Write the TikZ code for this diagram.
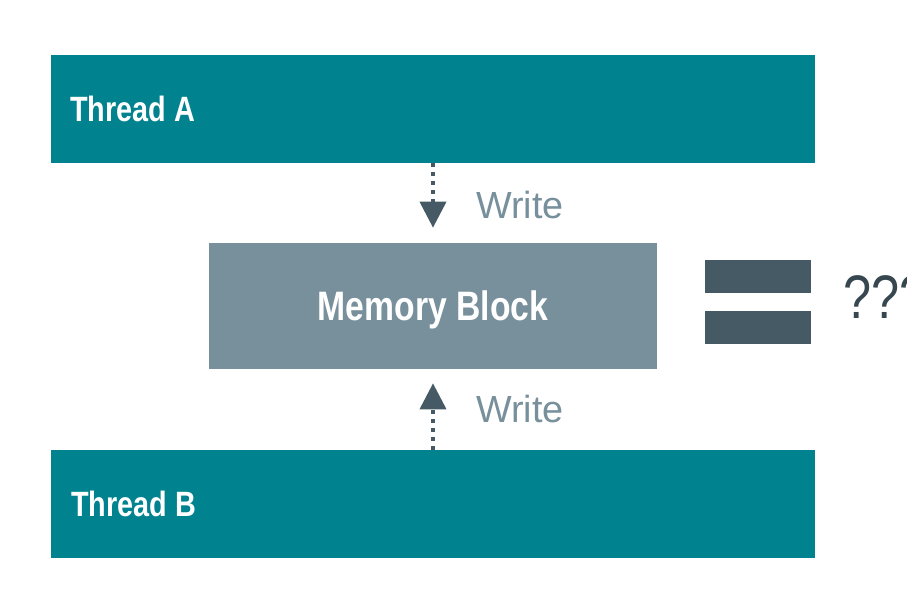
\documentclass[tikz,border=0pt]{standalone}
\usepackage{fontspec}
\setmainfont{Liberation Sans}
\newfontfamily\condfont[FakeStretch=0.82]{Liberation Sans}
\usetikzlibrary{arrows.meta,positioning}
\definecolor{threadteal}{HTML}{00838F}
\definecolor{memgrey}{HTML}{78909C}
\definecolor{bargrey}{HTML}{455A64}
\definecolor{qgrey}{HTML}{37474F}

\tikzset{
  threadbox/.style={fill=threadteal, draw=none, minimum width=15.28cm, minimum height=2.16cm, inner sep=0pt},
  threadlabel/.style={text=white, font=\condfont\bfseries\fontsize{20}{24}\selectfont, inner sep=0pt},
  membox/.style={fill=memgrey, draw=none, minimum width=8.96cm, minimum height=2.52cm, inner sep=0pt},
  memlabel/.style={text=white, font=\condfont\bfseries\fontsize{23.4}{28}\selectfont, inner sep=0pt, anchor=base},
  eqbar/.style={fill=bargrey, draw=none, minimum width=2.12cm, minimum height=0.66cm, inner sep=0pt},
  writearrow/.style={bargrey, line width=2.2pt, dash pattern=on 2.2pt off 2.9pt,
    -{Triangle[width=0.52cm,length=0.52cm]}},
  writelabel/.style={text=memgrey, font=\fontsize{21.5}{26}\selectfont, inner sep=0pt, anchor=base west}
}

\begin{document}
\begin{tikzpicture}[x=0.02cm, y=-0.02cm]
\useasboundingbox (0,0) rectangle (907,613);
% --- threads ---
\node[threadbox] (threadA) at (433,109) {};
\node[threadlabel, anchor=west] (labelA) at ([xshift=0.38cm]threadA.west) {Thread A};
\node[threadbox] (threadB) at (433,504) {};
\node[threadlabel, anchor=west] (labelB) at ([xshift=0.40cm]threadB.west) {Thread B};
% --- shared memory ---
\node[membox] (mem) at (433,306) {};
\node[memlabel] (memText) at (433,320) {Memory Block};
% --- writes ---
\draw[writearrow, shorten >=0.30cm] (threadA.south) -- (mem.north);
\draw[writearrow, shorten >=0.28cm] (threadB.north) -- (mem.south);
\node[writelabel] (writeA) at (476,218) {Write};
\node[writelabel] (writeB) at (476,422) {Write};
% --- result ---
\node[eqbar] (barTop) at (758,276.5) {};
\node[eqbar] (barBot) at (758,327.5) {};
\node[text=qgrey, font=\condfont\fontsize{35}{40}\selectfont, inner sep=0pt, anchor=base west]
  (result) at (843,318) {???};
\end{tikzpicture}
\end{document}
